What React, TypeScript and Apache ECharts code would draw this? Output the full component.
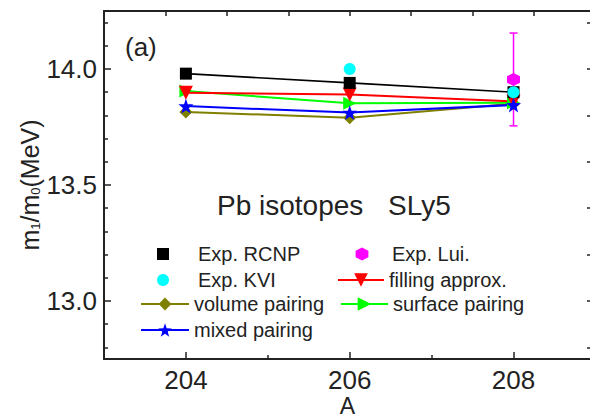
import React, { useEffect, useRef } from "react";
import * as echarts from "echarts";

// ---- data ----
const massNumbers = [204, 206, 208];
const rcnp = [13.98, 13.94, 13.9];
const kviA = [206, 208];
const kvi = [14.0, 13.9];
const luiA = [208];
const lui = [13.955];
const luiErr = [0.2];
const filling = [13.898, 13.89, 13.86];
const volume = [13.815, 13.79, 13.85];
const surface = [13.905, 13.852, 13.855];
const mixed = [13.84, 13.812, 13.845];

// ---- ticks ----
const xTickMajor = [204, 206, 208];
const xTickMinor = [205, 207];
const xTickTop = [203.75, 204.5, 205.25, 206, 206.75, 207.5, 208.25];
const yTickMajor = [13.0, 13.5, 14.0];
const yTickMinor = [12.8, 12.9, 13.1, 13.2, 13.3, 13.4, 13.6, 13.7, 13.8, 13.9, 14.1, 14.2];
const yTickRight = [12.8, 13.0, 13.2, 13.4, 13.6, 13.8, 14.0, 14.2];

const FONT = "Liberation Sans, Arial, sans-serif";
const INK = "#222";

const HEXAGON = "path://M0,-10L8.66,-5L8.66,5L0,10L-8.66,5L-8.66,-5Z";
const STAR =
  "path://M0,-10L2.35,-3.24L9.51,-3.09L3.8,1.24L5.88,8.09L0,4L-5.88,8.09L-3.8,1.24L-9.51,-3.09L-2.35,-3.24Z";
const TRI_DOWN = "path://M-10,-8.66L10,-8.66L0,8.66Z";
const TRI_RIGHT = "path://M-8.66,-10L8.66,0L-8.66,10Z";

const zip = (xs: number[], ys: number[]) => xs.map((x, i) => [x, ys[i]]);

const legendItem = (
  name: string,
  left: number,
  top: number,
  itemWidth: number,
  itemHeight: number,
  hideLine = false
) => ({
  data: [name],
  left,
  top,
  itemWidth,
  itemHeight,
  padding: 0,
  selectedMode: false,
  ...(hideLine ? { lineStyle: { opacity: 0, width: 0 } } : {}),
  textStyle: { fontSize: 20, fontFamily: FONT, color: INK },
});

export default function App() {
  const ref = useRef<HTMLDivElement>(null);
  useEffect(() => {
    if (!ref.current) return;
    const chart = echarts.init(ref.current, null, { renderer: "svg" });
    const xRange = { min: 203, max: 208.946 };
    const yRange = { min: 12.75, max: 14.25 };
    const lineAxis = { show: true, lineStyle: { color: INK, width: 2 } };
    chart.setOption({
      animation: false,
      backgroundColor: "#fff",
      grid: {
        left: 104,
        top: 11,
        width: 487,
        height: 348,
        containLabel: false,
        outerBoundsMode: "none",
      },
      xAxis: [
        {
          type: "value",
          position: "bottom",
          ...xRange,
          axisLine: lineAxis,
          splitLine: { show: false },
          axisTick: {
            inside: true,
            length: 7,
            customValues: xTickMajor,
            lineStyle: { color: INK, width: 1.5 },
          },
          axisLabel: {
            customValues: xTickMajor,
            margin: 10,
            fontSize: 26,
            lineHeight: 22,
            fontFamily: FONT,
            color: INK,
          },
          name: "A",
          nameLocation: "middle",
          nameGap: 36,
          nameMoveOverlap: false,
          nameTextStyle: { fontSize: 23, lineHeight: 22, fontFamily: FONT, color: INK },
        },
        {
          type: "value",
          position: "bottom",
          ...xRange,
          axisLine: { show: false },
          splitLine: { show: false },
          axisTick: {
            inside: true,
            length: 4,
            customValues: xTickMinor,
            lineStyle: { color: INK, width: 1.5 },
          },
          axisLabel: { show: false },
        },
        {
          type: "value",
          position: "top",
          ...xRange,
          axisLine: lineAxis,
          splitLine: { show: false },
          axisTick: {
            inside: true,
            length: 5,
            customValues: xTickTop,
            lineStyle: { color: INK, width: 1.5 },
          },
          axisLabel: { show: false },
        },
      ],
      yAxis: [
        {
          type: "value",
          position: "left",
          ...yRange,
          axisLine: lineAxis,
          splitLine: { show: false },
          axisTick: {
            inside: true,
            length: 7,
            customValues: yTickMajor,
            lineStyle: { color: INK, width: 1.5 },
          },
          axisLabel: {
            customValues: yTickMajor,
            formatter: (v: number) => v.toFixed(1),
            margin: 7,
            fontSize: 26,
            fontFamily: FONT,
            color: INK,
          },
          name: "{a|m}{b|1}{a|/m}{b|0}{a|(MeV)}",
          nameLocation: "middle",
          nameGap: 62,
          nameMoveOverlap: false,
          nameTextStyle: {
            fontFamily: FONT,
            color: INK,
            rich: {
              a: { fontSize: 25, fontFamily: FONT, color: INK },
              b: { fontSize: 13, fontFamily: FONT, color: INK, verticalAlign: "bottom" },
            },
          },
        },
        {
          type: "value",
          position: "left",
          ...yRange,
          axisLine: { show: false },
          splitLine: { show: false },
          axisTick: {
            inside: true,
            length: 4,
            customValues: yTickMinor,
            lineStyle: { color: INK, width: 1.5 },
          },
          axisLabel: { show: false },
        },
        {
          type: "value",
          position: "right",
          ...yRange,
          axisLine: lineAxis,
          splitLine: { show: false },
          axisTick: {
            inside: true,
            length: 4,
            customValues: yTickRight,
            lineStyle: { color: INK, width: 1.5 },
          },
          axisLabel: { show: false },
        },
      ],
      legend: [
        legendItem("Exp. RCNP", 133, 244, 60, 15, true),
        legendItem("Exp. KVI", 133, 270, 60, 15, true),
        legendItem("Exp. Lui.", 337, 244, 50, 16, true),
        legendItem("filling approx.", 337, 270, 46, 17),
        legendItem("volume pairing", 140, 294, 48, 16),
        legendItem("surface pairing", 340, 294, 47, 17),
        legendItem("mixed pairing", 140, 320, 48, 17),
      ],
      graphic: [
        {
          type: "text",
          x: 125,
          y: 47,
          style: {
            text: "(a)",
            fontSize: 26,
            fontFamily: FONT,
            fill: INK,
            textVerticalAlign: "middle",
          },
        },
        {
          type: "text",
          x: 217,
          y: 205,
          style: {
            text: "Pb isotopes",
            fontSize: 28,
            fontFamily: FONT,
            fill: INK,
            textVerticalAlign: "middle",
          },
        },
        {
          type: "text",
          x: 388,
          y: 205,
          style: {
            text: "SLy5",
            fontSize: 28,
            fontFamily: FONT,
            fill: INK,
            textVerticalAlign: "middle",
          },
        },
      ],
      series: [
        {
          name: "volume pairing",
          type: "line",
          data: zip(massNumbers, volume),
          symbol: "diamond",
          symbolSize: 13,
          color: "#808000",
          lineStyle: { color: "#808000", width: 2 },
          itemStyle: { color: "#808000" },
        },
        {
          name: "surface pairing",
          type: "line",
          data: zip(massNumbers, surface),
          symbol: TRI_RIGHT,
          symbolSize: 13,
          color: "#00ff00",
          lineStyle: { color: "#00ff00", width: 2 },
          itemStyle: { color: "#00ff00" },
        },
        {
          name: "filling approx.",
          type: "line",
          data: zip(massNumbers, filling),
          symbol: TRI_DOWN,
          symbolSize: 14,
          color: "#ff0000",
          lineStyle: { color: "#ff0000", width: 2 },
          itemStyle: { color: "#ff0000" },
        },
        {
          name: "mixed pairing",
          type: "line",
          data: zip(massNumbers, mixed),
          symbol: STAR,
          symbolSize: 15,
          color: "#0000ff",
          lineStyle: { color: "#0000ff", width: 2 },
          itemStyle: { color: "#0000ff" },
        },
        {
          name: "Exp. RCNP",
          type: "line",
          data: zip(massNumbers, rcnp),
          symbol: "rect",
          symbolSize: 12,
          color: "#000",
          lineStyle: { color: "#000", width: 1.6 },
          itemStyle: { color: "#000" },
        },
        {
          name: "Exp. KVI",
          type: "line",
          data: zip(kviA, kvi),
          symbol: "circle",
          symbolSize: 12,
          showAllSymbol: true,
          color: "#00ffff",
          lineStyle: { opacity: 0, width: 0 },
          itemStyle: { color: "#00ffff" },
          z: 3,
        },
        {
          name: "Exp. Lui. error",
          type: "custom",
          z: 3,
          data: luiA.map((a, i) => [a, lui[i] - luiErr[i], lui[i] + luiErr[i]]),
          renderItem: (_params: any, api: any) => {
            const x = api.value(0);
            const lo = api.coord([x, api.value(1)]);
            const hi = api.coord([x, api.value(2)]);
            const st = { stroke: "#ff00ff", lineWidth: 1.5 };
            const h = 4;
            return {
              type: "group",
              children: [
                { type: "line", shape: { x1: lo[0], y1: lo[1], x2: hi[0], y2: hi[1] }, style: st },
                { type: "line", shape: { x1: hi[0] - h, y1: hi[1], x2: hi[0] + h, y2: hi[1] }, style: st },
                { type: "line", shape: { x1: lo[0] - h, y1: lo[1], x2: lo[0] + h, y2: lo[1] }, style: st },
              ],
            };
          },
        },
        {
          name: "Exp. Lui.",
          type: "line",
          data: zip(luiA, lui),
          symbol: HEXAGON,
          symbolSize: 13,
          showAllSymbol: true,
          color: "#ff00ff",
          lineStyle: { opacity: 0, width: 0 },
          itemStyle: { color: "#ff00ff" },
          z: 4,
        },
      ],
    });
    return () => chart.dispose();
  }, []);
  return (
    <div
      ref={ref}
      style={{ position: "fixed", left: 0, top: 0, width: 590, height: 417, background: "#fff" }}
    />
  );
}
